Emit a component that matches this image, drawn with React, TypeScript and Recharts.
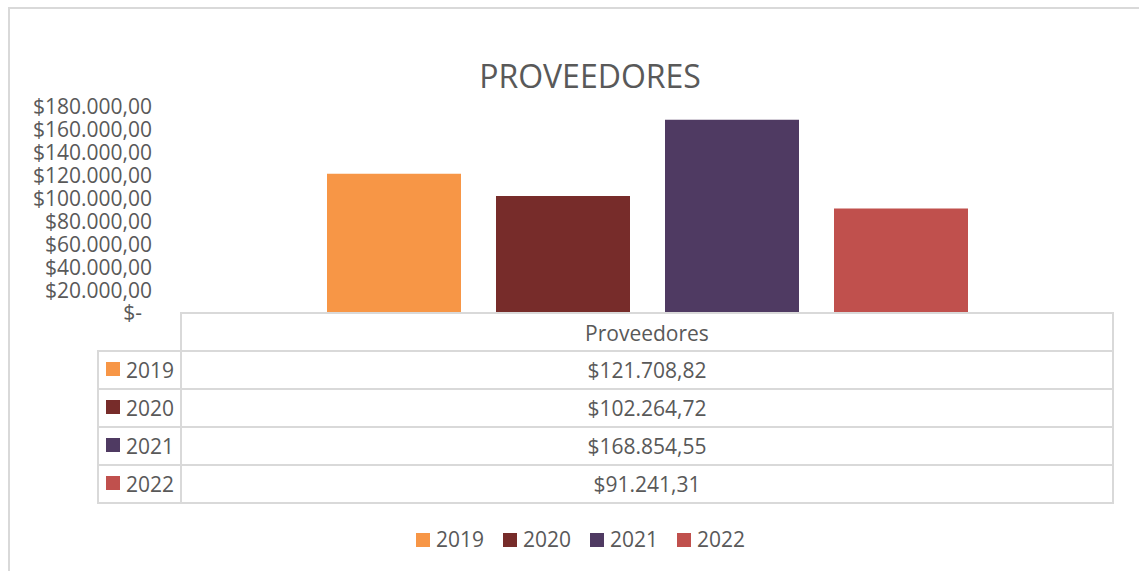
import React from 'react';
import { BarChart, Bar, XAxis, YAxis } from 'recharts';

const title = 'PROVEEDORES';
const categories = ['Proveedores'];
const seriesNames = ['2019', '2020', '2021', '2022'];
const seriesValues = [121708.82, 102264.72, 168854.55, 91241.31];
const seriesColors = ['#F79646', '#772C2A', '#4F3A62', '#C0504D'];
const yTicks = [0, 20000, 40000, 60000, 80000, 100000, 120000, 140000, 160000, 180000];

const FONT = "'Open Sans', sans-serif";
const TEXT = '#595959';
const LINE = '#d9d9d9';

const fmt = (v: number) => {
  if (v === 0) return '$-';
  const [i, d] = v.toFixed(2).split('.');
  return '$' + i.replace(/\B(?=(\d{3})+(?!\d))/g, '.') + ',' + d;
};

const data = categories.map((c) => {
  const row: Record<string, any> = { name: c };
  seriesNames.forEach((s, k) => (row[s] = seriesValues[k]));
  return row;
});

const YTick = (props: any) => {
  const { x, y, payload } = props;
  const v = payload.value as number;
  return (
    <text x={v === 0 ? x - 10 : x} y={y} dy="0.355em" textAnchor="end" fill={TEXT} fontSize={21} fontFamily={FONT}>
      {fmt(v)}
    </text>
  );
};

export default function App() {
  const rowTop = 351;
  const rowH = 38;
  const hLines = [313, ...seriesNames.map((_, i) => rowTop + rowH * i), rowTop + rowH * seriesNames.length];
  const tableBottom = rowTop + rowH * seriesNames.length;
  return (
    <div style={{ position: 'fixed', left: 0, top: 0, width: 1139, height: 571, overflow: 'hidden', background: '#fff' }}>
      <div style={{ position: 'absolute', left: 0, top: 0 }}>
        <BarChart width={1139} height={571} data={data} margin={{ top: 107, right: 26, bottom: 258, left: 0 }} barGap={35} barCategoryGap={0}>
          <XAxis dataKey="name" hide />
          <YAxis
            width={181}
            domain={[0, 180000]}
            ticks={yTicks}
            interval={0}
            axisLine={false}
            tickLine={false}
            tickSize={0}
            tickMargin={29}
            tick={<YTick />}
          />
          {seriesNames.map((s, k) => (
            <Bar key={s} dataKey={s} fill={seriesColors[k]} barSize={134} isAnimationActive={false} />
          ))}
        </BarChart>
      </div>
      <svg width={1139} height={571} style={{ position: 'absolute', left: 0, top: 0 }}>
        {/* outer border */}
        <rect x={8} y={7} width={2} height={564} fill={LINE} />
        <rect x={8} y={7} width={1131} height={2} fill={LINE} />
        {/* title */}
        <text x={590} y={88} textAnchor="middle" fill={TEXT} fontSize={32} fontFamily={FONT}>
          {title}
        </text>
        {/* data table lines */}
        {hLines.map((y, i) => (
          <rect key={'h' + i} x={i === 0 ? 180 : 97} y={y - 1} width={i === 0 ? 934 : 1017} height={2} fill={LINE} />
        ))}
        <rect x={97} y={rowTop - 1} width={2} height={tableBottom - rowTop + 2} fill={LINE} />
        <rect x={180} y={312} width={2} height={tableBottom - 312 + 1} fill={LINE} />
        <rect x={1112} y={312} width={2} height={tableBottom - 312 + 1} fill={LINE} />
        <text x={647} y={341} textAnchor="middle" fill={TEXT} fontSize={21} fontFamily={FONT}>
          {categories[0]}
        </text>
        {seriesNames.map((s, i) => (
          <g key={s}>
            <rect x={106} y={362 + rowH * i} width={14} height={14} fill={seriesColors[i]} />
            <text x={126} y={378 + rowH * i} fill={TEXT} fontSize={21} fontFamily={FONT}>
              {s}
            </text>
            <text x={647} y={378 + rowH * i} textAnchor="middle" fill={TEXT} fontSize={21} fontFamily={FONT}>
              {fmt(seriesValues[i])}
            </text>
          </g>
        ))}
        {/* legend */}
        {seriesNames.map((s, i) => (
          <g key={'lg' + s}>
            <rect x={416 + 87 * i} y={533} width={14} height={14} fill={seriesColors[i]} />
            <text x={436 + 87 * i} y={547} fill={TEXT} fontSize={21} fontFamily={FONT}>
              {s}
            </text>
          </g>
        ))}
      </svg>
    </div>
  );
}
